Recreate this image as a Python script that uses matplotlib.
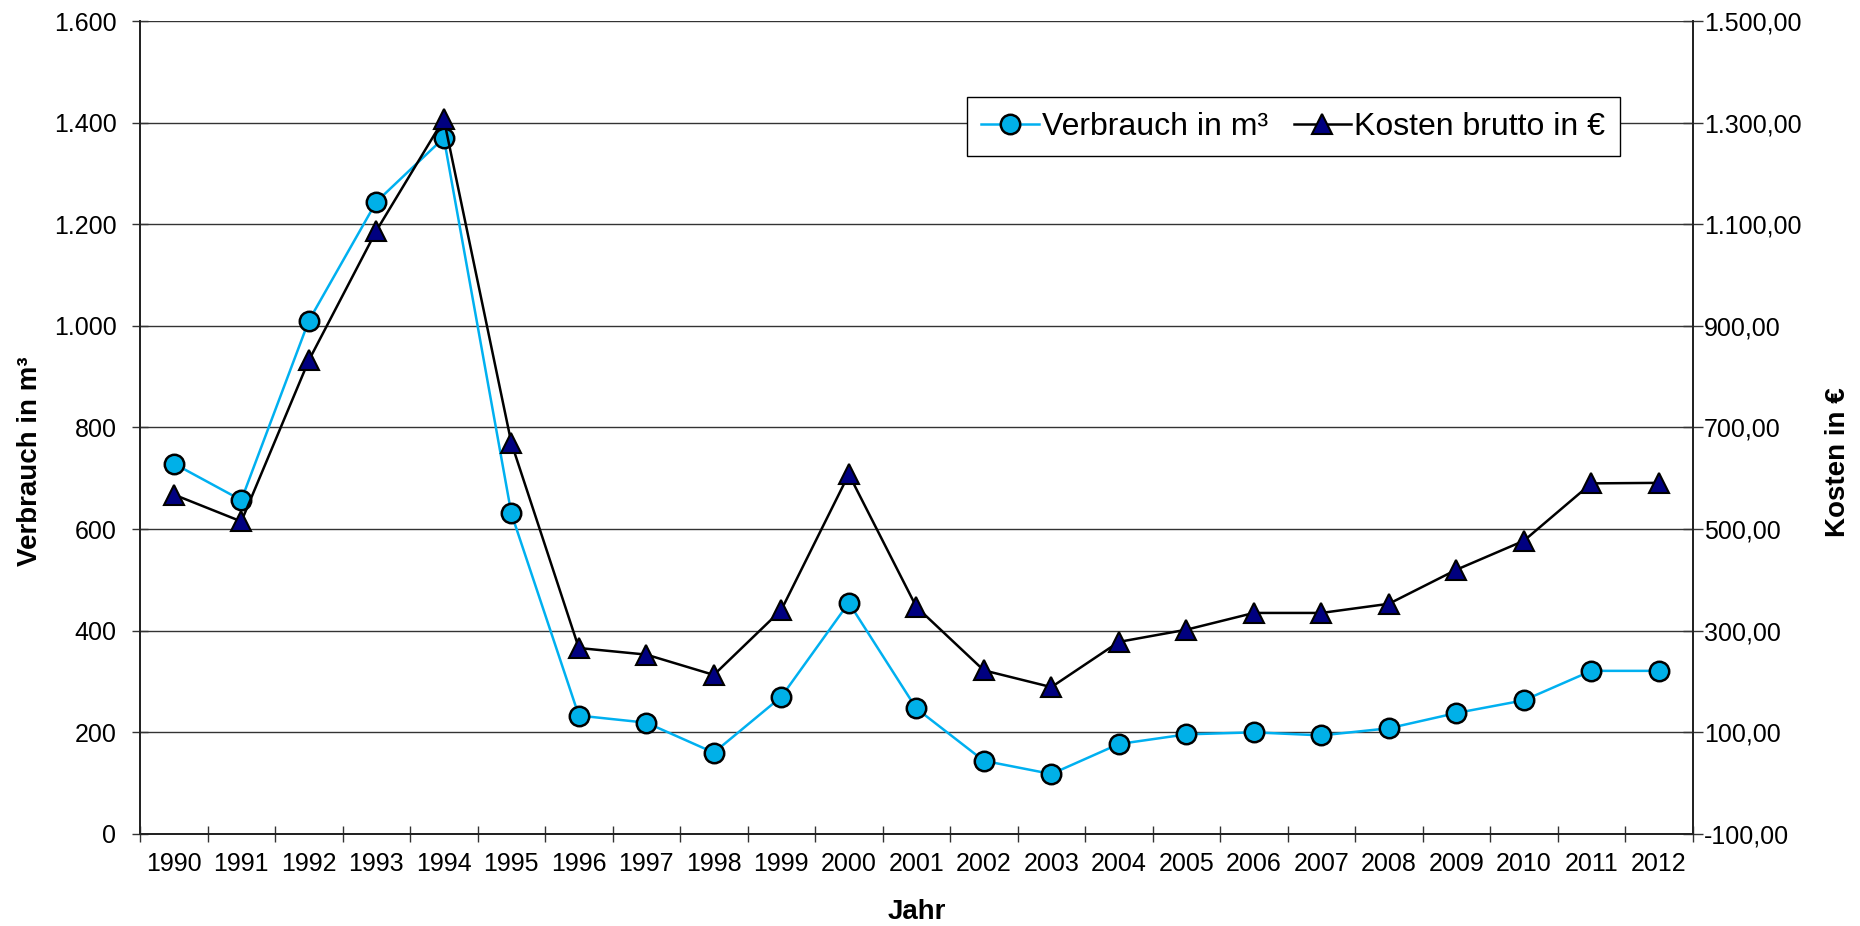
import matplotlib
matplotlib.use("Agg")
import matplotlib.pyplot as plt
from matplotlib.ticker import FuncFormatter, FixedLocator
import numpy as np

plt.rcParams['font.family'] = ['Liberation Sans', 'DejaVu Sans']

# data
years = [str(y) for y in range(1990, 2013)]
verbrauch = [729, 657, 1010, 1244, 1370, 631, 233, 219, 160, 270, 455, 247,
             144, 118, 177, 196, 200, 194, 208, 238, 263, 321, 321]
kosten = [568, 515, 832, 1087, 1307, 670, 266, 253, 213, 341, 608, 347,
          222, 189, 278, 302, 335, 335, 353, 420, 477, 590, 591]

left_ticks = list(range(0, 1601, 200))
right_ticks = list(range(-100, 1501, 200))


def de_int(v, pos=None):
    return f"{int(round(v)):,}".replace(",", ".")


def de_dec(v, pos=None):
    s = f"{v:,.2f}"
    return s.replace(",", "X").replace(".", ",").replace("X", ".")


fig = plt.figure(figsize=(18.6, 9.26), dpi=100)
ax = fig.add_axes([0.0753, 0.0994, 0.8347, 0.8779])
ax2 = ax.twinx()

x = np.arange(len(years))

l1, = ax.plot(x, verbrauch, color='#00b0f0', lw=1.8, marker='o', ms=14,
              mfc='#00b0e8', mec='black', mew=1.8, label='Verbrauch in m³', zorder=3)
l2, = ax2.plot(x, kosten, color='black', lw=1.8, marker='^', ms=14,
               mfc='#000080', mec='black', mew=1.5, label='Kosten brutto in €', zorder=3)

ax.set_xlim(-0.5, len(years) - 0.5)
ax.set_ylim(0, 1600)
ax2.set_ylim(-100, 1500)

ax.yaxis.set_major_locator(FixedLocator(left_ticks))
ax.yaxis.set_major_formatter(FuncFormatter(de_int))
ax2.yaxis.set_major_locator(FixedLocator(right_ticks))
ax2.yaxis.set_major_formatter(FuncFormatter(de_dec))

# category ticks between years, labels at centers
ax.set_xticks(np.arange(len(years) + 1) - 0.5)
ax.set_xticklabels([])
ax.set_xticks(x, minor=True)
ax.set_xticklabels(years, minor=True)
ax.tick_params(axis='x', which='minor', length=0, pad=13, labelsize=18)
ax.tick_params(axis='x', which='major', direction='inout', length=12, width=1, color='#333333')
ax.tick_params(axis='y', direction='inout', length=12, width=1, color='#333333',
               labelsize=18, pad=11)
ax2.tick_params(axis='y', direction='inout', length=14, width=1, color='#333333',
                labelsize=18, pad=1)

ax.grid(axis='y', color='#333333', lw=1.0)
ax.set_axisbelow(True)

for a in (ax, ax2):
    a.spines['top'].set_visible(False)
    for s in ('left', 'right', 'bottom'):
        a.spines[s].set_color('#222222')
        a.spines[s].set_linewidth(1.3)

ax.set_ylabel('Verbrauch in m³', fontsize=20, fontweight='bold')
ax.yaxis.set_label_coords(-0.0625, 0.458)
ax2.set_ylabel('Kosten in €', fontsize=20, fontweight='bold')
ax2.yaxis.set_label_coords(1.085, 0.458)
ax.set_xlabel('Jahr', fontsize=20, fontweight='bold')
ax.xaxis.set_label_coords(0.5, -0.080)

leg = ax2.legend(handles=[l1, l2], loc='upper right', bbox_to_anchor=(0.953, 0.906),
                 ncol=2, fontsize=23, frameon=True, fancybox=False, framealpha=1,
                 edgecolor='black', handlelength=1.8, handletextpad=0.1,
                 columnspacing=0.8, borderpad=0.45, borderaxespad=0)
leg.get_frame().set_linewidth(1.0)

fig.savefig('out.png', dpi=100)
